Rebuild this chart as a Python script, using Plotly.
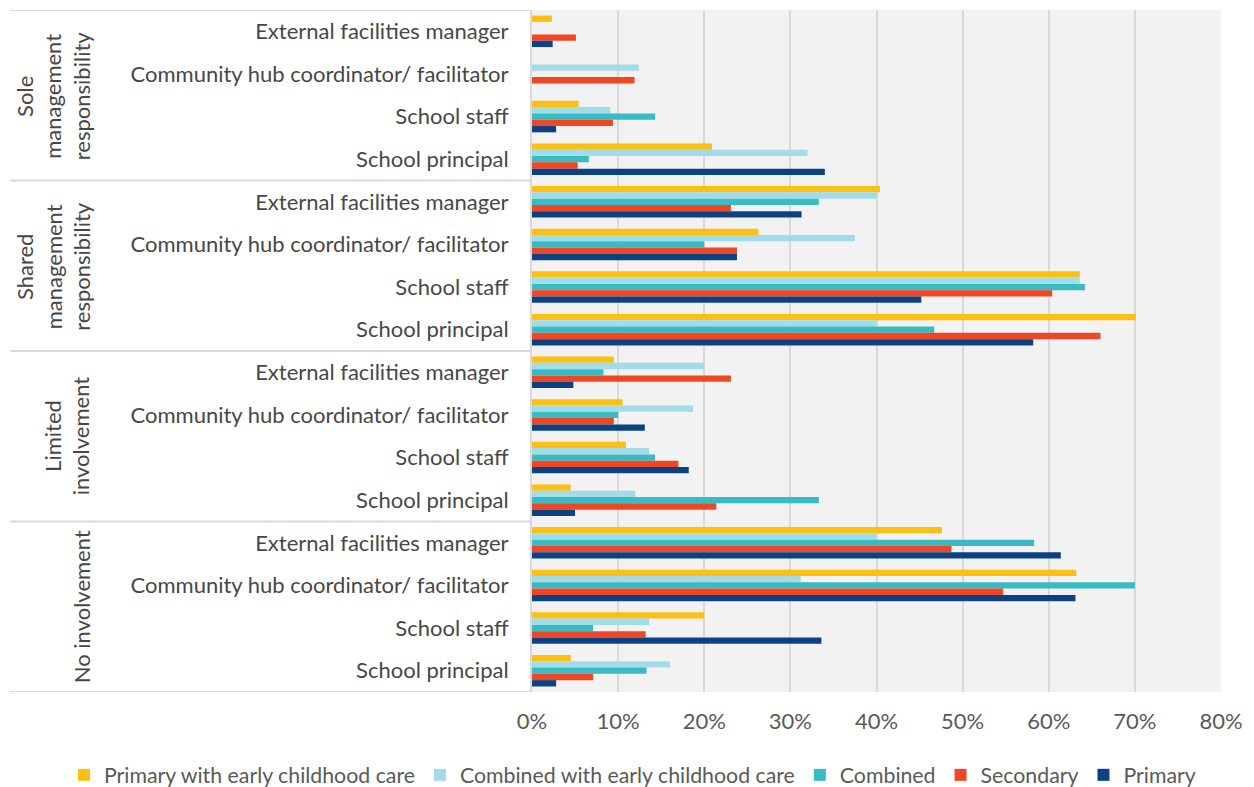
import plotly.graph_objects as go

groups = ["Sole<br>management<br>responsibility",
          "Shared<br>management<br>responsibility",
          "Limited<br>involvement",
          "No involvement"]
roles = ["External facilities manager",
         "Community hub coordinator/ facilitator",
         "School staff",
         "School principal"]

series_names = ["Primary with early childhood care",
                "Combined with early childhood care",
                "Combined", "Secondary", "Primary"]
series_colors = ["#FCBF14", "#A3DCE9", "#38BBC2", "#EF4724", "#0C4284"]

# values in %, rows top-to-bottom (group by group, roles in order above)
primary_ecc = [2.3, 0, 5.4, 20.9, 40.4, 26.3, 63.6, 70.1, 9.5, 10.5, 10.9, 4.5, 47.6, 63.2, 20.0, 4.5]
combined_ecc = [0, 12.4, 9.1, 32.0, 40.0, 37.5, 63.6, 40.0, 20.0, 18.7, 13.6, 12.0, 40.0, 31.2, 13.6, 16.0]
combined = [0, 0, 14.3, 6.6, 33.3, 20.0, 64.2, 46.7, 8.3, 10.0, 14.3, 33.3, 58.3, 70.0, 7.1, 13.3]
secondary = [5.1, 11.9, 9.4, 5.3, 23.1, 23.8, 60.4, 66.0, 23.1, 9.5, 17.0, 21.4, 48.7, 54.7, 13.2, 7.1]
primary = [2.4, 0, 2.8, 34.0, 31.3, 23.8, 45.2, 58.2, 4.8, 13.1, 18.2, 5.0, 61.4, 63.1, 33.6, 2.8]

series_values = [primary_ecc, combined_ecc, combined, secondary, primary]

x_ticks = [0, 10, 20, 30, 40, 50, 60, 70, 80]

W, H = 1254, 787
ML, MR, MT, MB = 532, 33, 10, 95
FONT = "Lato"
TXT = "#474747"
TXT2 = "#595959"
LINE = "#D9D9D9"

n_roles = len(roles)
n_rows = len(groups) * n_roles
y_pos = list(range(n_rows))
tick_text = roles * len(groups)

fig = go.Figure()
for name, color, vals in zip(series_names, series_colors, series_values):
    fig.add_trace(go.Bar(
        x=vals, y=y_pos, name=name, orientation="h",
        marker=dict(color=color, line=dict(width=0)),
    ))

plot_w = W - ML - MR
plot_h = H - MT - MB
left_px = 10
x0_paper = (left_px - ML) / plot_w

shapes = []
for g in range(len(groups) + 1):
    yb = g * n_roles - 0.5
    shapes.append(dict(type="line", xref="paper", yref="y",
                       x0=x0_paper, x1=0, y0=yb, y1=yb,
                       line=dict(color=LINE, width=2)))

annotations = []
label_right_px = 97
for g, gname in enumerate(groups):
    yc = g * n_roles + (n_roles - 1) / 2
    annotations.append(dict(
        text=gname, xref="paper", yref="y",
        x=(label_right_px - ML) / plot_w, y=yc,
        xanchor="right", yanchor="middle",
        textangle=-90, showarrow=False, align="center",
        font=dict(family=FONT, size=22, color=TXT)))

legend_left_px = 64
legend_mid_px = 775
fig.update_layout(
    width=W, height=H,
    margin=dict(l=ML, r=MR, t=MT, b=MB, autoexpand=False),
    paper_bgcolor="white", plot_bgcolor="#F2F2F2",
    barmode="group", bargap=0.26, bargroupgap=0,
    font=dict(family=FONT, size=22, color=TXT),
    shapes=shapes, annotations=annotations,
    legend=dict(orientation="h",
                x=(legend_left_px - ML) / plot_w, xanchor="left",
                y=-(legend_mid_px - (H - MB)) / plot_h, yanchor="middle",
                font=dict(family=FONT, size=21.3, color=TXT2),
                itemwidth=30, tracegroupgap=0),
    showlegend=True,
)
fig.update_xaxes(range=[0, 80], tickvals=x_ticks,
                 ticktext=[f"{v}%" for v in x_ticks],
                 showgrid=True, gridcolor=LINE, gridwidth=2,
                 zeroline=False, showline=False, automargin=False,
                 tickfont=dict(family=FONT, size=22, color=TXT2),
                 ticklabelstandoff=14, fixedrange=True)
fig.update_yaxes(tickvals=y_pos, ticktext=tick_text,
                 range=[n_rows - 0.5, -0.5],
                 showgrid=False, zeroline=False, automargin=False,
                 showline=True, linecolor=LINE, linewidth=2,
                 tickfont=dict(family=FONT, size=22, color=TXT),
                 ticklabelstandoff=17, fixedrange=True)

fig.write_html("out.html",
               config={"displayModeBar": False},
               post_script="document.body.style.margin='0';document.body.style.overflow='hidden';")
